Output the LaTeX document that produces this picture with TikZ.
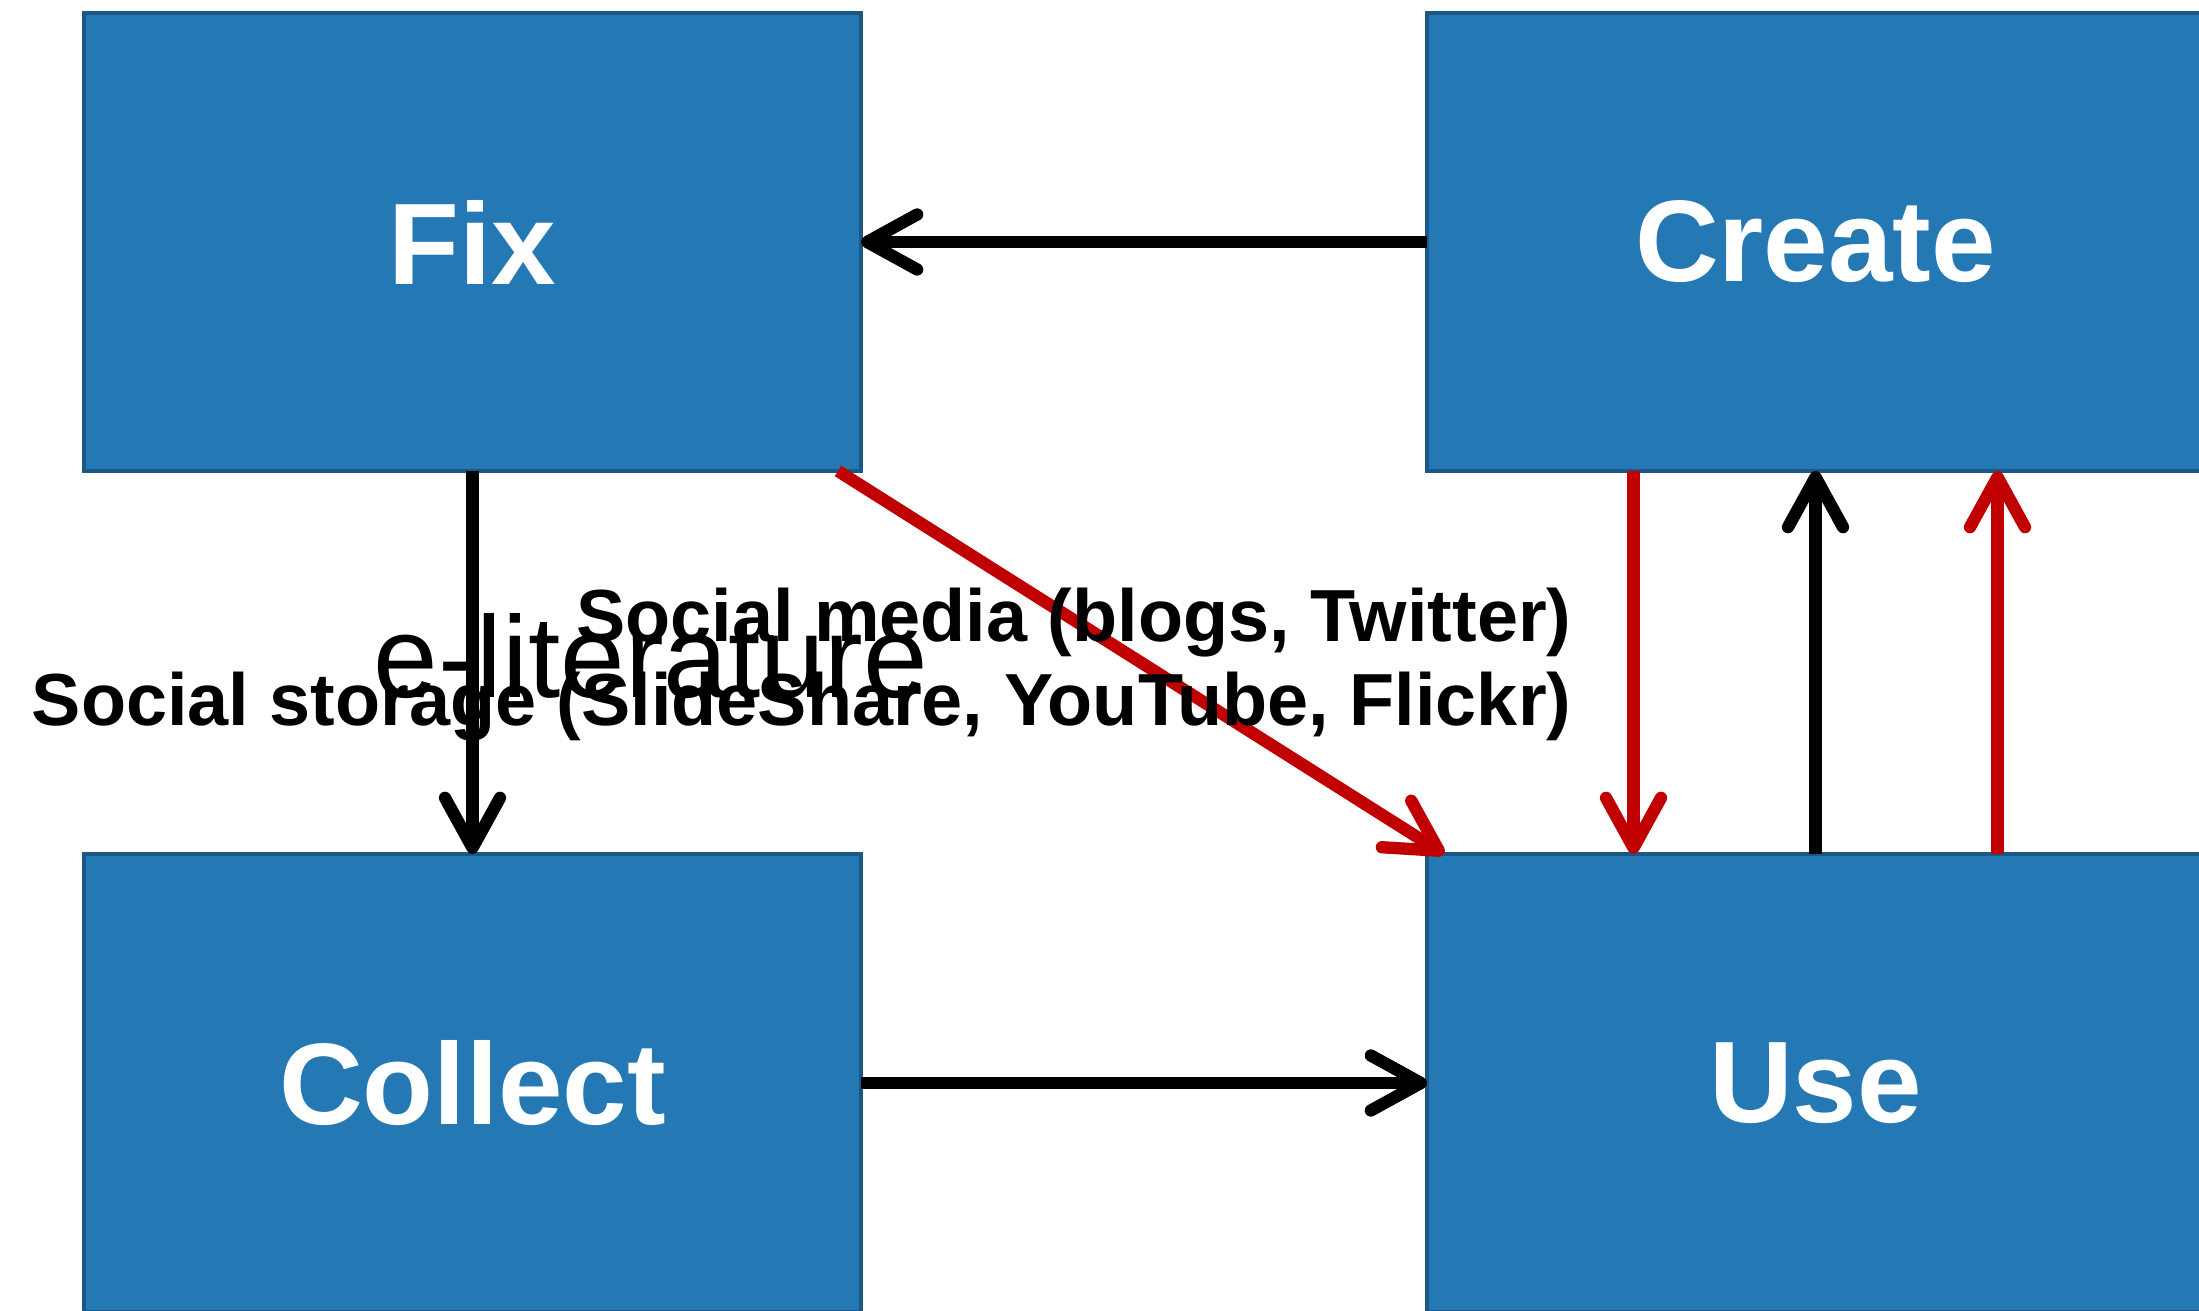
\documentclass[tikz,border=0pt]{standalone}
\usepackage{fontspec}
\setmainfont{Liberation Sans}
\usepackage{tikz}
\usetikzlibrary{arrows.meta, positioning}
\definecolor{boxblue}{RGB}{36,120,180}
\definecolor{boxedge}{RGB}{28,88,134}
\definecolor{flowred}{RGB}{192,0,0}

\tikzset{
  stage/.style={rectangle, fill=boxblue, draw=boxedge, line width=0.9pt,
    minimum width=7.77cm, minimum height=4.58cm, inner sep=0pt, outer sep=0pt,
    text=white, font=\bfseries\fontsize{33}{40}\selectfont},
  flow/.style={line width=3.5pt, -{Straight Barb[length=0.5cm, width=0.55cm, round]}},
  redflow/.style={flow, draw=flowred},
  note/.style={inner sep=0pt, font=\bfseries\fontsize{21}{24}\selectfont}
}

\begin{document}
\begin{tikzpicture}
\useasboundingbox (0,0) rectangle (21.99,13.10);

% boxes
\node[stage] (fix) at (4.725,10.68) {Fix};
\node[stage, right=5.66cm of fix] (create) {Create};
\node[stage, below=3.83cm of fix] (collect) {Collect};
\node[stage, right=5.66cm of collect] (use) {Use};

% black arrows
\draw[flow] (create) -- (fix);
\draw[flow] (fix) -- (collect);
\draw[flow] (collect) -- (use);
\draw[flow] (use) -- (create);

% red arrows
\draw[redflow] ([xshift=-0.23cm]fix.south east) -- ([xshift=0.17cm]use.north west);
\draw[redflow] ([xshift=-1.82cm]create.south) -- ([xshift=-1.82cm]use.north);
\draw[redflow] ([xshift=1.82cm]use.north) -- ([xshift=1.82cm]create.south);

% labels
\node[inner sep=0pt, anchor=base, font=\fontsize{33}{40}\selectfont] (elit) at (6.51,6.12) {e-literature};
\node[note, anchor=base east] (media) at (15.72,6.68) {Social media (blogs, Twitter)};
\node[note, anchor=base east] (storage) at (15.72,5.84) {Social storage (SlideShare, YouTube, Flickr)};
\end{tikzpicture}
\end{document}
